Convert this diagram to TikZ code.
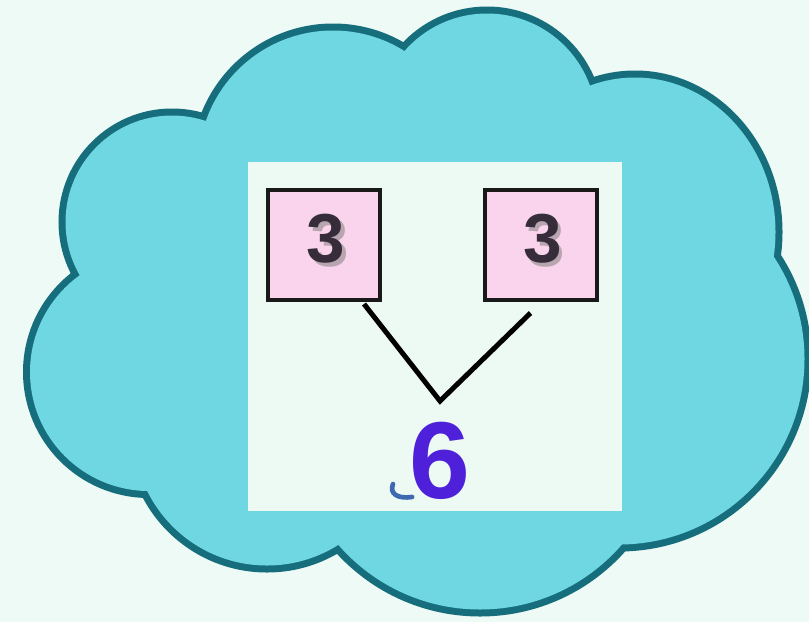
\documentclass[tikz,border=0pt]{standalone}
\usepackage{fontspec}
\setmainfont{Liberation Sans}
\usetikzlibrary{calc}
\definecolor{bgmint}{RGB}{238,250,245}
\definecolor{panelmint}{RGB}{236,250,243}
\definecolor{cloudfill}{RGB}{111,215,226}
\definecolor{cloudline}{RGB}{22,110,124}
\definecolor{boxpink}{RGB}{250,212,236}
\definecolor{digitdark}{RGB}{55,45,58}
\definecolor{sixblue}{RGB}{78,32,218}
\definecolor{smudge}{RGB}{60,105,175}
\tikzset{
  lobeline/.style={draw=cloudline, line width=10.5pt, fill=cloudfill},
  lobefill/.style={fill=cloudfill, draw=none},
  numbox/.style={draw=black!90, line width=3pt, fill=boxpink,
    minimum width=84pt, minimum height=82.5pt, inner sep=0pt},
  digit/.style={text=digitdark, inner sep=0pt, font=\bfseries\fontsize{52}{52}\selectfont},
  digitshadow/.style={text=black!50, opacity=0.55, inner sep=0pt, font=\bfseries\fontsize{52}{52}\selectfont},
  conn/.style={draw=black, line width=3.75pt},
  sixstyle/.style={text=sixblue, inner sep=0pt, font=\bfseries\fontsize{82}{82}\selectfont},
}
\begin{document}
\begin{tikzpicture}[x=0.75pt, y=-0.75pt]
\useasboundingbox (0,0) rectangle (809,622);
\fill[bgmint] (0,0) rectangle (809,622);
% cloud: outlined lobes, then fill pass
\foreach \c/\r in {{(333,165)}/134.5, {(487,123)}/109.5, {(619,359)}/185.5, {(480,422)}/187.5, {(267,432)}/133.5, {(149,372)}/119, {(172,222)}/106.5}
  \path[lobeline] \c circle[radius=\r];
\path[lobeline] (635,232) ellipse[x radius=140.5, y radius=154.5];
\foreach \c/\r in {{(333,165)}/134.5, {(487,123)}/109.5, {(619,359)}/185.5, {(480,422)}/187.5, {(267,432)}/133.5, {(149,372)}/119, {(172,222)}/106.5}
  \path[lobefill] \c circle[radius=\r];
\path[lobefill] (635,232) ellipse[x radius=140.5, y radius=154.5];
\path[lobefill] (333,165) -- (487,123) -- (635,232) -- (619,359) -- (480,422) -- (267,432) -- (149,372) -- (172,222) -- cycle;
% panel
\fill[panelmint] (248,162) rectangle (622,511);
% boxes
\node[numbox] (L) at (324,245) {};
\node[numbox] (R) at (540.5,245) {};
\foreach \b in {L,R}{
  \node[digitshadow] at ($(\b)+(5.5,-2.5)$) {3};
  \node[digit] (d\b) at ($(\b)+(2,-6)$) {3};
}
% connectors
\coordinate (v) at (440,401);
\coordinate (ls) at ($(L.south east)+(-18,2)$);
\coordinate (re) at ($(R.south)+(-10,11)$);
\draw[conn] (ls) -- (v) -- (re);
% result
\node[sixstyle] (S) at (440,461) {6};
\draw[smudge, line width=3.5pt, line cap=round] (393,484) .. controls (389,494) and (398,499) .. (412,497);
\end{tikzpicture}
\end{document}
